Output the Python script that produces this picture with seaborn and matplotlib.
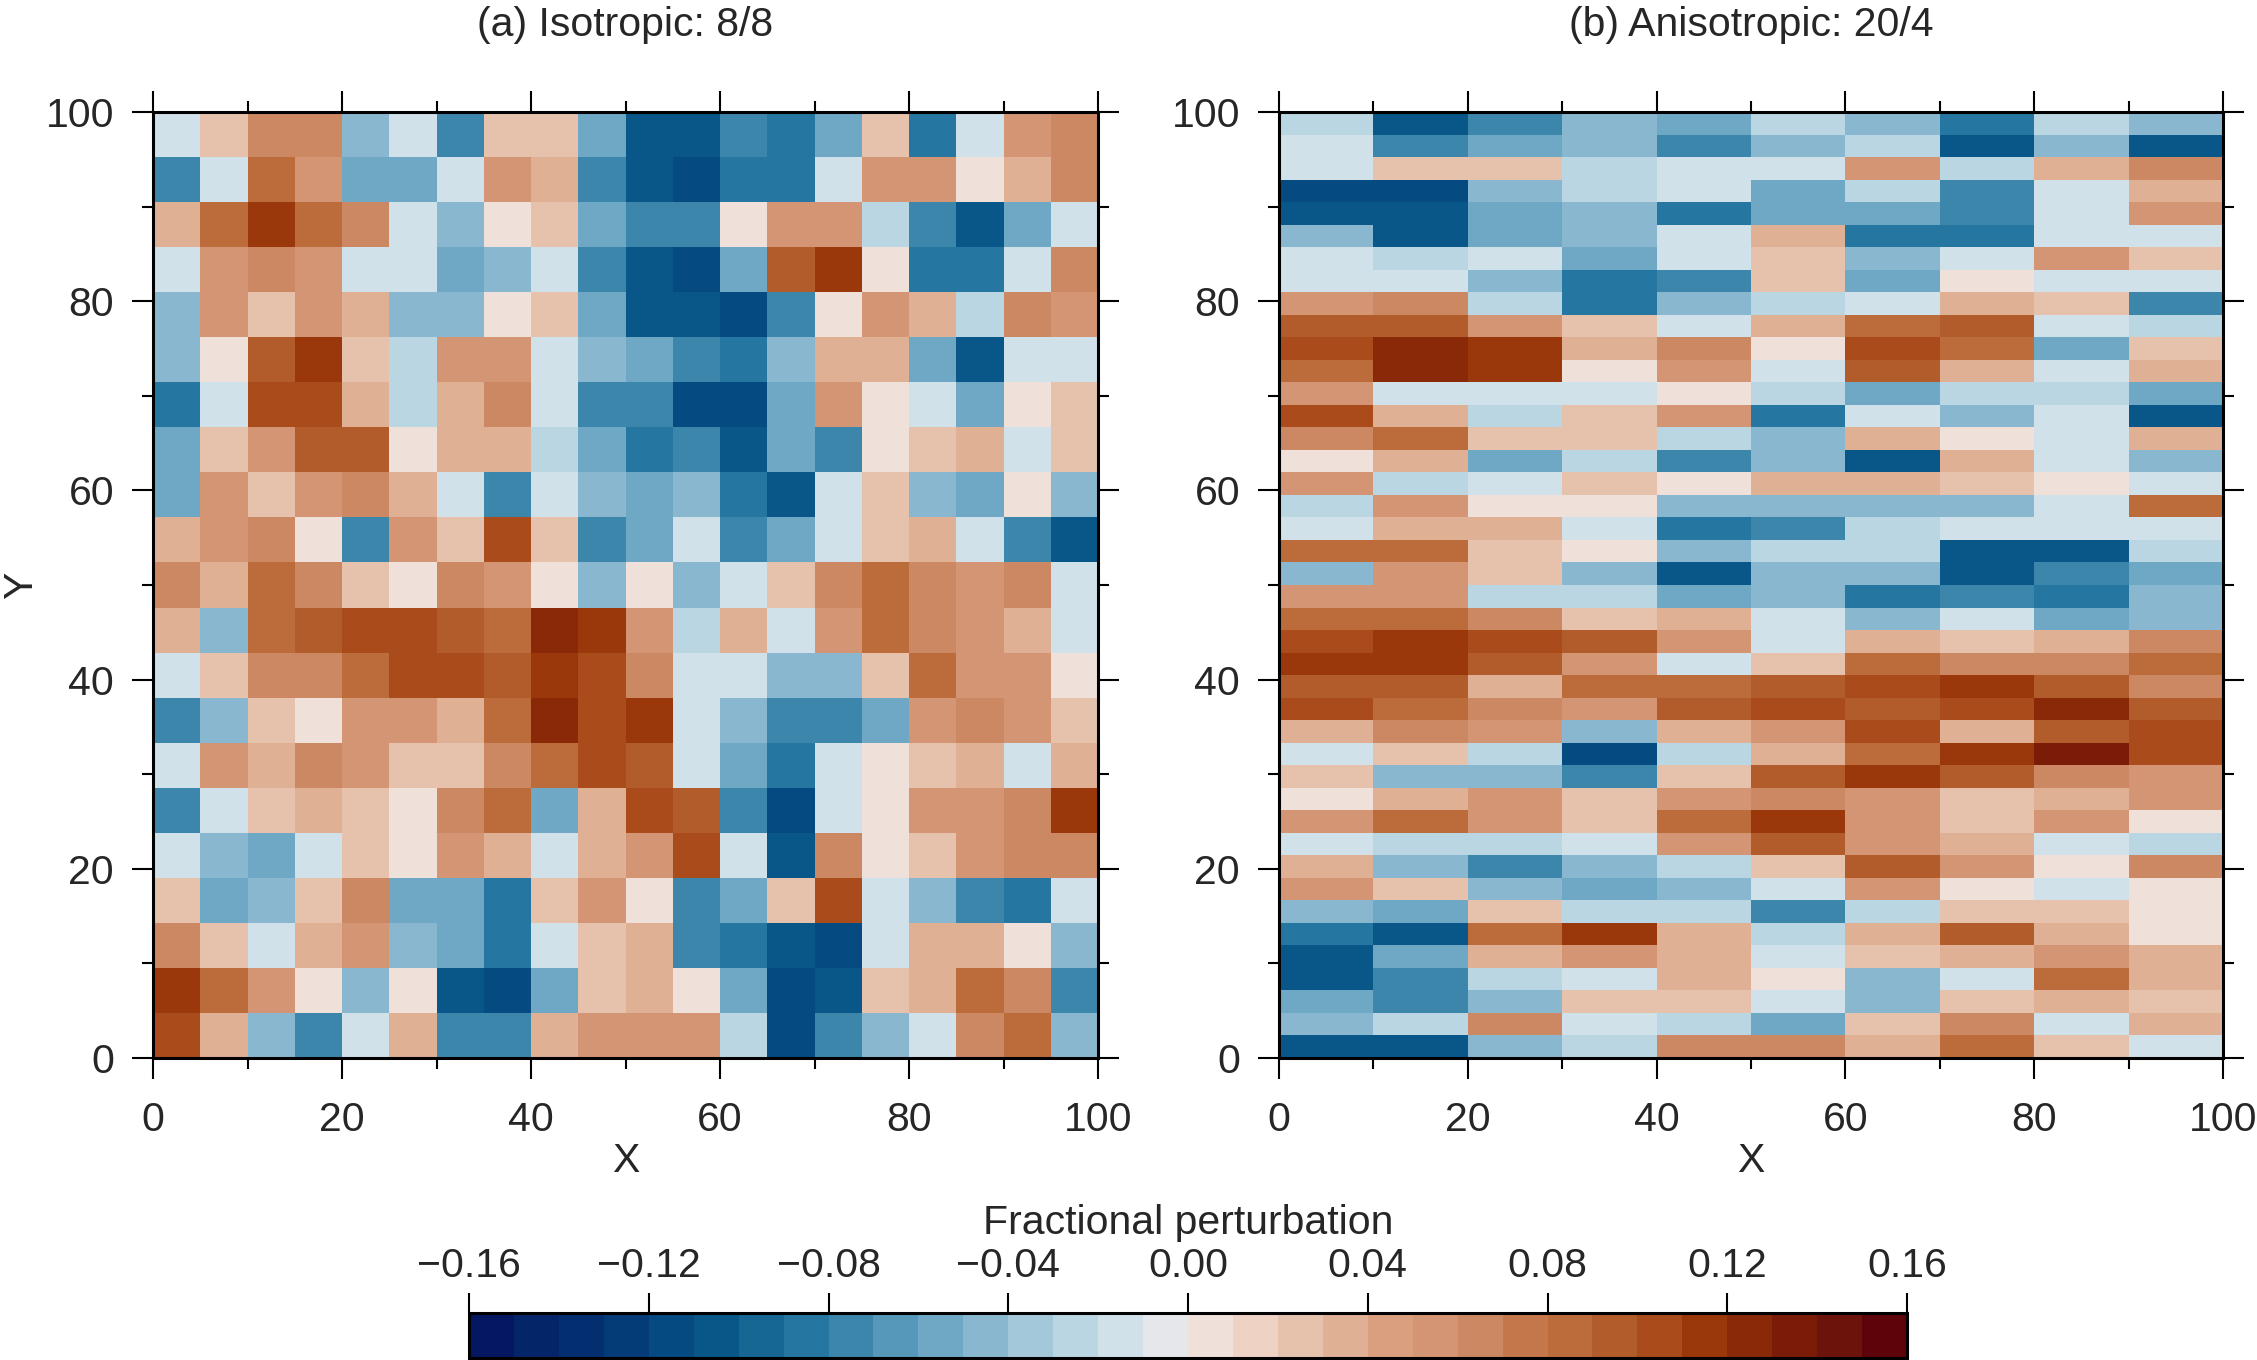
import numpy as np
import matplotlib
matplotlib.use("Agg")
import matplotlib.pyplot as plt
from matplotlib.colors import ListedColormap
import seaborn as sns

# ---------------- data (fractional perturbation, in hundredths) ----------------
# Panel (a): 21 rows (top Y~100 -> bottom Y~0) x 20 columns (X 0 -> 100)
iso_pct = [
    [-2, 2, 6, 6, -5, -2, -8, 2, 2, -6, -11, -11, -8, -9, -6, 2, -9, -2, 5, 6],
    [-8, -2, 8, 5, -6, -6, -2, 5, 3, -8, -11, -12, -9, -9, -2, 5, 5, 0, 3, 6],
    [3, 8, 11, 8, 6, -2, -5, 0, 2, -6, -8, -8, 0, 5, 5, -3, -8, -11, -6, -2],
    [-2, 5, 6, 5, -2, -2, -6, -5, -2, -8, -11, -12, -6, 9, 11, 0, -9, -9, -2, 6],
    [-5, 5, 2, 5, 3, -5, -5, 0, 2, -6, -11, -11, -12, -8, 0, 5, 3, -3, 6, 5],
    [-5, 0, 9, 11, 2, -3, 5, 5, -2, -5, -6, -8, -9, -5, 3, 3, -6, -11, -2, -2],
    [-9, -2, 10, 10, 3, -3, 3, 6, -2, -8, -8, -12, -12, -6, 5, 0, -2, -6, 0, 2],
    [-6, 2, 5, 9, 9, 0, 3, 3, -3, -6, -9, -8, -11, -6, -8, 0, 2, 3, -2, 2],
    [-6, 5, 2, 5, 6, 3, -2, -8, -2, -5, -6, -5, -9, -11, -2, 2, -5, -6, 0, -5],
    [3, 5, 6, 0, -8, 5, 2, 10, 2, -8, -6, -2, -8, -6, -2, 2, 3, -2, -8, -11],
    [6, 3, 8, 6, 2, 0, 6, 5, 0, -5, 0, -5, -2, 2, 6, 8, 6, 5, 6, -2],
    [3, -5, 8, 9, 10, 10, 9, 8, 12, 11, 5, -3, 3, -2, 5, 8, 6, 5, 3, -2],
    [-2, 2, 6, 6, 8, 10, 10, 9, 11, 10, 6, -2, -2, -5, -5, 2, 8, 5, 5, 0],
    [-8, -5, 2, 0, 5, 5, 3, 8, 12, 10, 11, -2, -5, -8, -8, -6, 5, 6, 5, 2],
    [-2, 5, 3, 6, 5, 2, 2, 6, 8, 10, 9, -2, -6, -9, -2, 0, 2, 3, -2, 3],
    [-8, -2, 2, 3, 2, 0, 6, 8, -6, 3, 10, 9, -8, -12, -2, 0, 5, 5, 6, 11],
    [-2, -5, -6, -2, 2, 0, 5, 3, -2, 3, 5, 10, -2, -11, 6, 0, 2, 5, 6, 6],
    [2, -6, -5, 2, 6, -6, -6, -9, 2, 5, 0, -8, -6, 2, 10, -2, -5, -8, -9, -2],
    [6, 2, -2, 3, 5, -5, -6, -9, -2, 2, 3, -8, -9, -11, -12, -2, 3, 3, 0, -5],
    [11, 8, 5, 0, -5, 0, -11, -12, -6, 2, 3, 0, -6, -12, -11, 2, 3, 8, 6, -8],
    [10, 3, -5, -8, -2, 3, -8, -8, 3, 5, 5, 5, -3, -12, -8, -5, -2, 6, 8, -5],
]

# Panel (b): 42 rows (top Y~100 -> bottom Y~0) x 10 columns (X 0 -> 100)
aniso_pct = [
    [-3, -11, -8, -5, -6, -3, -5, -9, -3, -5],
    [-2, -8, -6, -5, -8, -5, -3, -11, -5, -11],
    [-2, 2, 2, -3, -2, -2, 5, -3, 3, 6],
    [-12, -12, -5, -3, -2, -6, -3, -8, -2, 3],
    [-11, -11, -6, -5, -9, -6, -6, -8, -2, 5],
    [-5, -11, -6, -5, -2, 3, -9, -9, -2, -2],
    [-2, -3, -2, -6, -2, 2, -5, -2, 5, 2],
    [-2, -2, -5, -9, -8, 2, -6, 0, -2, -2],
    [5, 6, -3, -9, -5, -3, -2, 3, 2, -8],
    [9, 9, 5, 2, -2, 3, 8, 9, -2, -3],
    [10, 12, 11, 3, 6, 0, 10, 8, -6, 2],
    [8, 12, 11, 0, 5, -2, 9, 3, -2, 3],
    [5, -2, -2, -2, 0, -3, -6, -3, -3, -6],
    [10, 3, -3, 2, 5, -9, -2, -5, -2, -11],
    [6, 8, 2, 2, -3, -5, 3, 0, -2, 3],
    [0, 3, -6, -3, -8, -5, -11, 3, -2, -5],
    [5, -3, -2, 2, 0, 3, 3, 2, 0, -2],
    [-3, 5, 0, 0, -5, -5, -5, -5, -2, 8],
    [-2, 3, 3, -2, -9, -8, -3, -2, -2, -2],
    [8, 8, 2, 0, -5, -3, -3, -11, -11, -3],
    [-5, 5, 2, -5, -11, -5, -5, -11, -8, -6],
    [5, 5, -3, -3, -6, -5, -9, -8, -9, -5],
    [8, 8, 6, 2, 3, -2, -5, -2, -6, -5],
    [10, 11, 10, 9, 5, -2, 3, 2, 3, 6],
    [11, 11, 9, 5, -2, 2, 8, 6, 6, 8],
    [9, 9, 3, 8, 8, 9, 10, 11, 9, 6],
    [10, 8, 6, 5, 9, 10, 9, 10, 12, 9],
    [3, 6, 5, -5, 3, 5, 10, 3, 9, 10],
    [-2, 2, -3, -12, -3, 3, 8, 11, 13, 10],
    [2, -5, -5, -8, 2, 9, 11, 9, 6, 5],
    [0, 3, 5, 2, 5, 6, 5, 2, 3, 5],
    [5, 8, 5, 2, 8, 11, 5, 2, 5, 0],
    [-2, -3, -3, -2, 5, 9, 5, 3, -2, -3],
    [3, -5, -8, -5, -3, 2, 9, 5, 0, 6],
    [5, 2, -5, -6, -5, -2, 5, 0, -2, 0],
    [-5, -6, 2, -3, -3, -8, -3, 2, 2, 0],
    [-9, -11, 8, 11, 3, -3, 3, 9, 3, 0],
    [-11, -6, 3, 5, 3, -2, 2, 3, 5, 3],
    [-11, -8, -3, -2, 3, 0, -5, -2, 8, 3],
    [-6, -8, -5, 2, 2, -2, -5, 2, 3, 2],
    [-5, -3, 6, -2, -3, -6, 2, 6, -2, 3],
    [-11, -11, -5, -3, 6, 6, 3, 8, 2, -2],
]

panel_titles = ["(a) Isotropic: 8/8", "(b) Anisotropic: 20/4"]
axis_major = [0, 20, 40, 60, 80, 100]
axis_minor = [10, 30, 50, 70, 90]
cbar_ticks = [-0.16, -0.12, -0.08, -0.04, 0.00, 0.04, 0.08, 0.12, 0.16]
cbar_ticklabels = ["\u22120.16", "\u22120.12", "\u22120.08", "\u22120.04",
                   "0.00", "0.04", "0.08", "0.12", "0.16"]
cbar_title = "Fractional perturbation"

palette = [
    "#041760", "#042568", "#032f70", "#043c78", "#054a80", "#095789",
    "#176795", "#2576a0", "#3d86ab", "#5698b9", "#6ea8c4", "#89b7cf",
    "#a3c8da", "#bad6e2", "#d1e1e9", "#e6e7ea",
    "#efe0da", "#eed2c4", "#e6c2ad", "#dfb094", "#d99f7f", "#d39574",
    "#cb8862", "#c4774a", "#bc6b3a", "#b35c2b", "#a94b1b", "#9a380b",
    "#8a2908", "#7b1c08", "#6c130b", "#5e030a",
]

# ---------------- style ----------------
sns.set_style("white")
plt.rcParams["font.family"] = ["Liberation Sans", "DejaVu Sans"]
FS = 29.5

W, H = 2257.0, 1360.0
fig = plt.figure(figsize=(W / 100, H / 100), dpi=100)

ax_a = fig.add_axes([153 / W, 1 - 1058 / H, 945 / W, 946 / H])
ax_b = fig.add_axes([1279 / W, 1 - 1058 / H, 944 / W, 946 / H])
cax = fig.add_axes([469 / W, 2 / H, 1438 / W, 45 / H])

cmap = ListedColormap(palette)


def draw_panel(ax, grid_pct, with_cbar):
    data = np.array(grid_pct, dtype=float)[::-1] / 100.0
    kws = dict(cmap=cmap, vmin=-0.16, vmax=0.16,
               xticklabels=False, yticklabels=False, rasterized=True)
    if with_cbar:
        sns.heatmap(data, ax=ax, cbar=True, cbar_ax=cax,
                    cbar_kws={"orientation": "horizontal"}, **kws)
    else:
        sns.heatmap(data, ax=ax, cbar=False, **kws)
    nrows, ncols = data.shape
    ax.set_xlim(0, ncols)
    ax.set_ylim(0, nrows)
    sx, sy = ncols / 100.0, nrows / 100.0
    ax.set_xticks([t * sx for t in axis_major])
    ax.set_xticklabels([str(t) for t in axis_major], rotation=0)
    ax.set_xticks([t * sx for t in axis_minor], minor=True)
    ax.set_yticks([t * sy for t in axis_major])
    ax.set_yticklabels([str(t) for t in axis_major], rotation=0)
    ax.set_yticks([t * sy for t in axis_minor], minor=True)
    ax.tick_params(which="both", direction="out", top=True, right=True,
                   bottom=True, left=True, labeltop=False, labelright=False,
                   width=1.5, color="black")
    ax.tick_params(which="major", length=15, labelsize=FS)
    ax.tick_params(axis="x", which="major", pad=16)
    ax.tick_params(axis="y", which="major", pad=13)
    ax.tick_params(which="minor", length=8)
    for s in ax.spines.values():
        s.set_visible(True)
        s.set_linewidth(2.2)
        s.set_color("black")
    ax.set_xlabel("X", fontsize=FS)
    ax.xaxis.set_label_coords(0.5, -0.0883)


draw_panel(ax_a, iso_pct, True)
draw_panel(ax_b, aniso_pct, False)

ax_a.set_ylabel("Y", fontsize=FS)
ax_a.yaxis.set_label_coords(-0.119, 0.5)

fig.text(625.5 / W, 1 - 36 / H, panel_titles[0], ha="center", va="baseline", fontsize=FS)
fig.text(1751 / W, 1 - 36 / H, panel_titles[1], ha="center", va="baseline", fontsize=FS)

# colorbar
cbar = ax_a.collections[0].colorbar
cbar.set_ticks(cbar_ticks)
cbar.set_ticklabels(cbar_ticklabels)
cbar.ax.minorticks_off()
cbar.outline.set_linewidth(2.2)
cbar.outline.set_edgecolor("black")
cbar.ax.xaxis.set_ticks_position("top")
cbar.ax.xaxis.set_label_position("top")
cbar.ax.tick_params(axis="x", which="major", direction="out", length=14.4,
                    width=1.5, pad=6, labelsize=FS, top=True, bottom=False,
                    labeltop=True, labelbottom=False, color="black")
cbar.set_label(cbar_title, fontsize=FS, labelpad=9)

fig.savefig("out.png", dpi=100)
